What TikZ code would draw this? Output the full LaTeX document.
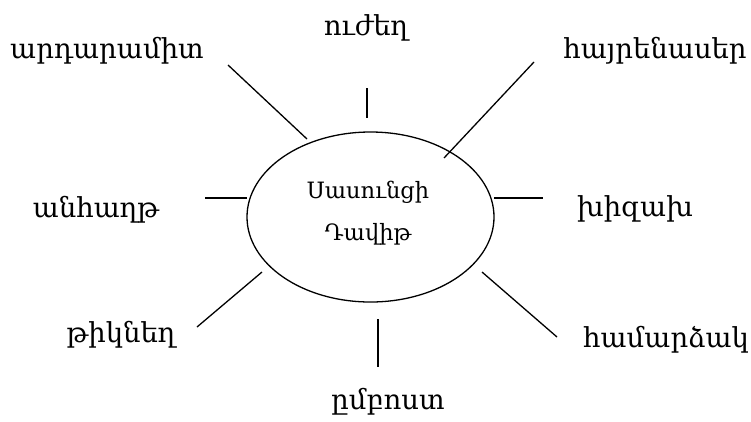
\documentclass[tikz,border=0pt]{standalone}
\usepackage{fontspec}
\setmainfont{DejaVu Serif}
\usetikzlibrary{shapes.geometric}
\begin{document}
\begin{tikzpicture}[x=1pt,y=-1pt,
  word/.style={font=\fontsize{27.5}{32}\selectfont, inner sep=0pt, anchor=base},
  mid/.style={font=\fontsize{22.5}{26}\selectfont, inner sep=0pt, anchor=base},
  ray/.style={line width=1.3pt}]
\useasboundingbox (0,0) rectangle (751,421);
\node[ellipse, draw, line width=1.3pt, minimum width=247pt, minimum height=170pt, inner sep=0pt] (c) at (370.5,217) {};
\node[mid] (c1) at (368,198) {Սասունցի};
\node[mid] (c2) at (368,240) {Դավիթ};
\node[word] (t) at (366,35) {ուժեղ};
\node[word] (tl) at (107,58) {արդարամիտ};
\node[word] (tr) at (655,58) {հայրենասեր};
\node[word] (l) at (96,217) {անհաղթ};
\node[word] (r) at (635,216) {խիզախ};
\node[word] (bl) at (121,342) {թիկնեղ};
\node[word] (br) at (666,347) {համարձակ};
\node[word] (b) at (388,409) {ըմբոստ};
\coordinate (t1) at (367,88);  \coordinate (t2) at (367,118);
\coordinate (tl1) at (228,65); \coordinate (tl2) at (307,139);
\coordinate (tr1) at (534,62); \coordinate (tr2) at (444,158);
\coordinate (l1) at (205,198); \coordinate (l2) at (247,198);
\coordinate (r1) at (494,198); \coordinate (r2) at (543,198);
\coordinate (bl1) at (262,272); \coordinate (bl2) at (197,327);
\coordinate (br1) at (482,272); \coordinate (br2) at (557,337);
\coordinate (b1) at (378,319); \coordinate (b2) at (378,367);
\draw[ray] (t1) -- (t2);
\draw[ray] (tl1) -- (tl2);
\draw[ray] (tr1) -- (tr2);
\draw[ray] (l1) -- (l2);
\draw[ray] (r1) -- (r2);
\draw[ray] (bl1) -- (bl2);
\draw[ray] (br1) -- (br2);
\draw[ray] (b1) -- (b2);
\end{tikzpicture}
\end{document}
